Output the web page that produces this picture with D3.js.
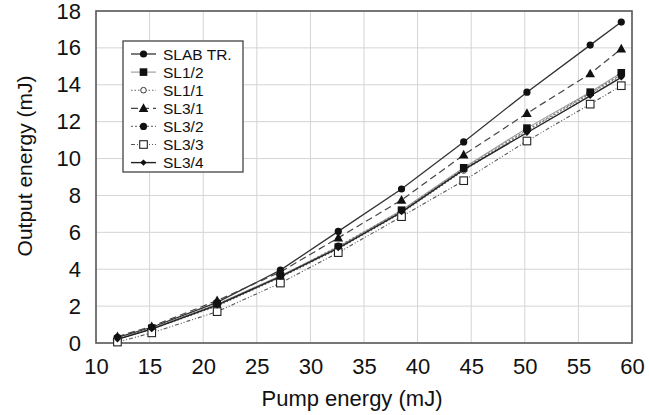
<!DOCTYPE html>
<html><head><meta charset="utf-8">
<script src="https://cdn.jsdelivr.net/npm/d3@7"></script>
<style>body{margin:0;background:#fff}svg{display:block}text{font-family:"Liberation Sans",Arial,sans-serif;fill:#111}</style>
</head><body>
<script>
const pump = [12, 15.2, 21.3, 27.2, 32.6, 38.5, 44.3, 50.2, 56.1, 59.0];
const slabTR = [0.3, 0.85, 2.2, 3.95, 6.05, 8.35, 10.9, 13.6, 16.15, 17.4];
const sl12 = [0.2, 0.8, 2.1, 3.65, 5.2, 7.2, 9.5, 11.65, 13.6, 14.65];
const sl11 = [0.2, 0.75, 2.0, 3.55, 5.1, 7.05, 9.35, 11.5, 13.5, 14.5];
const sl31 = [0.35, 0.9, 2.3, 3.85, 5.7, 7.75, 10.2, 12.45, 14.6, 15.95];
const sl32 = [0.25, 0.8, 2.1, 3.6, 5.25, 7.15, 9.45, 11.55, 13.55, 14.55];
const sl33 = [0.05, 0.55, 1.7, 3.25, 4.9, 6.85, 8.8, 10.95, 12.95, 13.95];
const sl34 = [0.2, 0.75, 2.05, 3.6, 5.15, 7.1, 9.4, 11.4, 13.4, 14.4];
const seriesNames = ["SLAB TR.", "SL1/2", "SL1/1", "SL3/1", "SL3/2", "SL3/3", "SL3/4"];
const xTicks = [10, 15, 20, 25, 30, 35, 40, 45, 50, 55, 60];
const yTicks = [0, 2, 4, 6, 8, 10, 12, 14, 16, 18];

const W = 649, H = 415;
const m = {l: 96, r: 17, t: 11, b: 72};
const svg = d3.select("body").append("svg").attr("width", W).attr("height", H);
const x = d3.scaleLinear().domain([10, 60]).range([m.l, W - m.r]);
const y = d3.scaleLinear().domain([0, 18]).range([H - m.b, m.t]);

// grid
svg.append("g").selectAll("line.v").data(xTicks.slice(1, -1)).join("line")
  .attr("x1", d => x(d)).attr("x2", d => x(d)).attr("y1", y(0)).attr("y2", y(18))
  .attr("stroke", "#d4d4d4").attr("stroke-width", 1);
svg.append("g").selectAll("line.h").data(yTicks.slice(1, -1)).join("line")
  .attr("x1", x(10)).attr("x2", x(60)).attr("y1", d => y(d)).attr("y2", d => y(d))
  .attr("stroke", "#d4d4d4").attr("stroke-width", 1);

// axes
const xAxis = d3.axisBottom(x).tickValues(xTicks).tickSize(0).tickPadding(15);
const gx = svg.append("g").attr("transform", `translate(0,${y(0)})`).call(xAxis);
gx.select(".domain").remove();
gx.selectAll("text").style("font-size", "22px").attr("fill", "#111");
const yAxis = d3.axisLeft(y).tickValues(yTicks).tickSize(0).tickPadding(15);
const gy = svg.append("g").attr("transform", `translate(${x(10)},0)`).call(yAxis);
gy.select(".domain").remove();
gy.selectAll("text").style("font-size", "22px").attr("fill", "#111");

svg.append("rect").attr("x", x(10)).attr("y", y(18)).attr("width", x(60) - x(10)).attr("height", y(0) - y(18))
  .attr("fill", "none").attr("stroke", "#555").attr("stroke-width", 1.6);

svg.append("text").attr("x", 352).attr("y", 406).attr("text-anchor", "middle")
  .style("font-size", "22px").text("Pump energy (mJ)");
svg.append("text").attr("transform", `translate(32,166) rotate(-90)`)
  .attr("text-anchor", "middle").style("font-size", "21px").text("Output energy (mJ)");

const series = [
  {name: seriesNames[0], v: slabTR, dash: null, stroke: "#333", w: 1.3, marker: "circle", fill: "#111"},
  {name: seriesNames[1], v: sl12, dash: null, stroke: "#999", w: 1.1, marker: "square", fill: "#111"},
  {name: seriesNames[2], v: sl11, dash: "1.5,2", stroke: "#666", w: 1.1, marker: "ocircle", fill: "#fff"},
  {name: seriesNames[3], v: sl31, dash: "7,4", stroke: "#444", w: 1.2, marker: "triangle", fill: "#111"},
  {name: seriesNames[4], v: sl32, dash: "2,2", stroke: "#777", w: 1.1, marker: "circle", fill: "#111"},
  {name: seriesNames[5], v: sl33, dash: "4,2,1,2,1,2", stroke: "#555", w: 1.1, marker: "osquare", fill: "#fff"},
  {name: seriesNames[6], v: sl34, dash: null, stroke: "#222", w: 1.4, marker: "diamond", fill: "#111"}
];

function drawMarker(g, type, cx, cy) {
  if (type === "circle") g.append("circle").attr("cx", cx).attr("cy", cy).attr("r", 3.6).attr("fill", "#111");
  else if (type === "ocircle") g.append("circle").attr("cx", cx).attr("cy", cy).attr("r", 2.8).attr("fill", "#fff").attr("stroke", "#333").attr("stroke-width", 1);
  else if (type === "square") g.append("rect").attr("x", cx - 3.8).attr("y", cy - 3.8).attr("width", 7.6).attr("height", 7.6).attr("fill", "#111");
  else if (type === "osquare") g.append("rect").attr("x", cx - 3.8).attr("y", cy - 3.8).attr("width", 7.6).attr("height", 7.6).attr("fill", "#fff").attr("stroke", "#222").attr("stroke-width", 1.1);
  else if (type === "triangle") g.append("path").attr("d", `M${cx},${cy - 5}L${cx + 4.8},${cy + 3.6}L${cx - 4.8},${cy + 3.6}Z`).attr("fill", "#111");
  else if (type === "diamond") g.append("path").attr("d", `M${cx},${cy - 3.2}L${cx + 3.2},${cy}L${cx},${cy + 3.2}L${cx - 3.2},${cy}Z`).attr("fill", "#111");
}

const line = d3.line().x((d, i) => x(pump[i])).y(d => y(d));
series.forEach(s => {
  svg.append("path").datum(s.v).attr("d", line).attr("fill", "none")
    .attr("stroke", s.stroke).attr("stroke-width", s.w).attr("stroke-dasharray", s.dash);
});
series.forEach(s => {
  const g = svg.append("g");
  s.v.forEach((v, i) => drawMarker(g, s.marker, x(pump[i]), y(v)));
});

// legend
const lg = svg.append("g");
lg.append("rect").attr("x", 123).attr("y", 41).attr("width", 120).attr("height", 131)
  .attr("fill", "#fff").attr("stroke", "#444").attr("stroke-width", 1.3);
series.forEach((s, i) => {
  const cy = 54 + i * 18.1;
  lg.append("line").attr("x1", 131).attr("x2", 156).attr("y1", cy).attr("y2", cy)
    .attr("stroke", s.stroke).attr("stroke-width", s.w).attr("stroke-dasharray", s.dash);
  drawMarker(lg, s.marker, 143.5, cy);
  lg.append("text").attr("x", 163).attr("y", cy + 5.5).style("font-size", "15.5px").text(s.name);
});
</script>
</body></html>
